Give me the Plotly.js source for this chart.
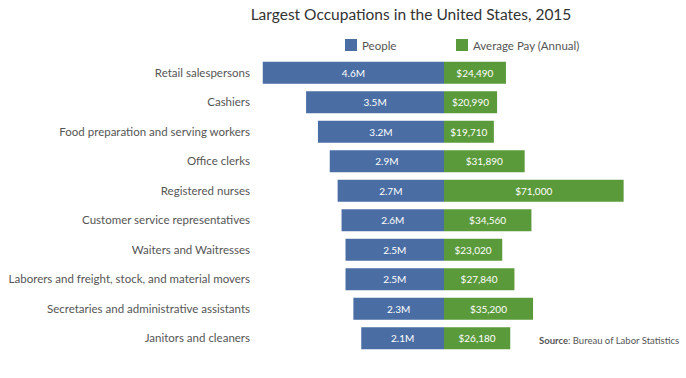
<!DOCTYPE html>
<html>
<head>
<meta charset="utf-8">
<script src="https://cdn.plot.ly/plotly-3.0.1.min.js"></script>
<style>html,body{margin:0;padding:0;background:#fff;}#chart{width:686px;height:378px;}</style>
</head>
<body>
<div id="chart"></div>
<script>
const occupations = [
  "Retail salespersons",
  "Cashiers",
  "Food preparation and serving workers",
  "Office clerks",
  "Registered nurses",
  "Customer service representatives",
  "Waiters and Waitresses",
  "Laborers and freight, stock, and material movers",
  "Secretaries and administrative assistants",
  "Janitors and cleaners"
];
const peopleMillions = [4.6, 3.5, 3.2, 2.9, 2.7, 2.6, 2.5, 2.5, 2.3, 2.1];
const averagePay = [24490, 20990, 19710, 31890, 71000, 34560, 23020, 27840, 35200, 26180];

const blue = "#4a6ea3";
const green = "#5b9a3b";
const font = "Lato, 'Open Sans', sans-serif";

const peopleTrace = {
  type: "bar", orientation: "h",
  x: peopleMillions, y: occupations,
  xaxis: "x", yaxis: "y",
  name: "People",
  marker: {color: blue},
  text: peopleMillions.map(v => v.toFixed(1) + "M"),
  textposition: "inside", insidetextanchor: "middle",
  textfont: {color: "#ffffff", size: 10, family: font},
  constraintext: "none",
  hoverinfo: "skip"
};
const payTrace = {
  type: "bar", orientation: "h",
  x: averagePay, y: occupations,
  xaxis: "x2", yaxis: "y",
  name: "Average Pay (Annual)",
  marker: {color: green},
  text: averagePay.map(v => "$" + v.toLocaleString("en-US")),
  textposition: "inside", insidetextanchor: "middle",
  textfont: {color: "#ffffff", size: 10, family: font},
  constraintext: "none",
  hoverinfo: "skip"
};

const L = 255, W = 686, split = 444;
const frac = (split - L) / (W - L);

const layout = {
  width: 686, height: 378,
  margin: {l: L, r: 0, t: 58, b: 25},
  paper_bgcolor: "#ffffff", plot_bgcolor: "#ffffff",
  showlegend: false,
  bargap: 0.25,
  font: {family: font, color: "#555555"},
  title: {
    text: "Largest Occupations in the United States, 2015",
    font: {size: 15.5, color: "#333333", family: font},
    xref: "container", x: 411 / 686, xanchor: "center",
    yref: "container", y: 1 - 15 / 378, yanchor: "middle"
  },
  xaxis: {
    domain: [0, frac], range: [(split - L) / 39.4, 0],
    showgrid: false, zeroline: false, showticklabels: false, showline: false, ticks: ""
  },
  xaxis2: {
    domain: [frac, 1], range: [0, (W - split) / 2.53 * 1000], anchor: "y",
    showgrid: false, zeroline: false, showticklabels: false, showline: false, ticks: ""
  },
  yaxis: {
    autorange: "reversed", showgrid: false, zeroline: false, showline: false,
    ticks: "", ticklabelstandoff: 4,
    tickfont: {size: 11.5, color: "#555555", family: font}
  },
  shapes: [
    {type: "rect", xref: "paper", yref: "paper", x0: (345 - L) / (W - L), x1: (357 - L) / (W - L),
     y0: 1 + (58 - 51) / 295, y1: 1 + (58 - 39) / 295, fillcolor: blue, line: {width: 0}},
    {type: "rect", xref: "paper", yref: "paper", x0: (456 - L) / (W - L), x1: (468 - L) / (W - L),
     y0: 1 + (58 - 51) / 295, y1: 1 + (58 - 39) / 295, fillcolor: green, line: {width: 0}}
  ],
  annotations: [
    {xref: "paper", yref: "paper", x: (360 - L) / (W - L), y: 1 + (58 - 45) / 295,
     xanchor: "left", yanchor: "middle", showarrow: false, text: "People",
     font: {size: 11.5, color: "#555555", family: font}},
    {xref: "paper", yref: "paper", x: (471 - L) / (W - L), y: 1 + (58 - 45) / 295,
     xanchor: "left", yanchor: "middle", showarrow: false, text: "Average Pay (Annual)",
     font: {size: 11.5, color: "#555555", family: font}},
    {xref: "paper", yref: "paper", x: 1, y: 1 - (340 - 58) / 295,
     xanchor: "right", yanchor: "middle", showarrow: false, xshift: -5,
     text: "<b>Source</b>: Bureau of Labor Statistics",
     font: {size: 9.5, color: "#555555", family: font}}
  ]
};

Plotly.newPlot("chart", [peopleTrace, payTrace], layout, {displayModeBar: false, staticPlot: true});
</script>
</body>
</html>
